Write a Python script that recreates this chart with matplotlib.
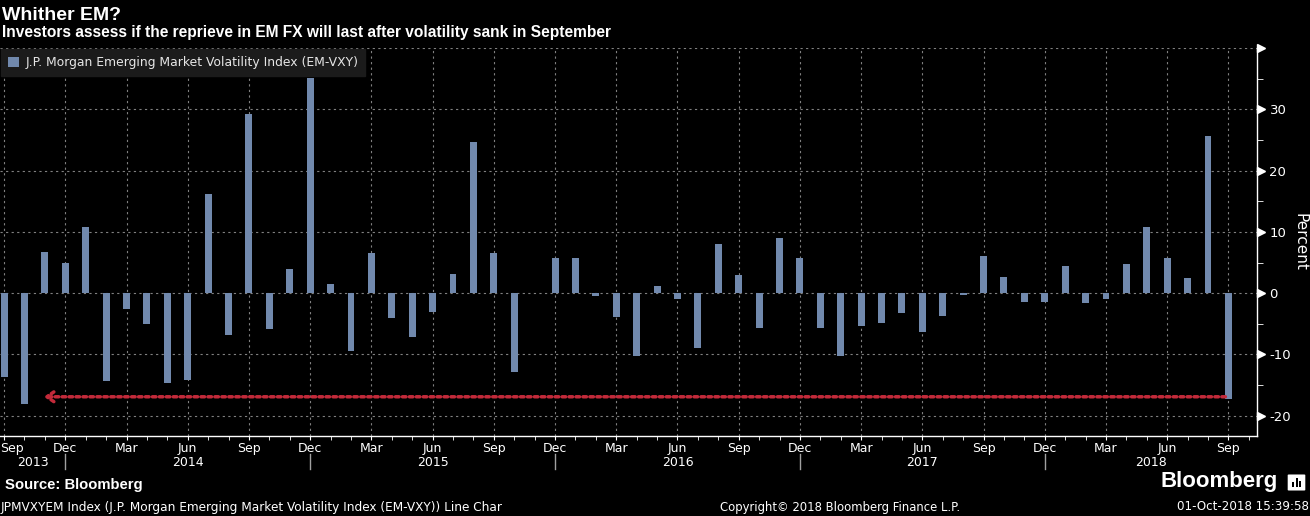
import numpy as np
import matplotlib.pyplot as plt
import matplotlib.transforms as mtransforms
from matplotlib.patches import FancyBboxPatch, Rectangle

# monthly change of EM-VXY, Sep 2013 .. Sep 2018 (percent)
months = ['Sep', 'Oct', 'Nov', 'Dec', 'Jan', 'Feb', 'Mar', 'Apr', 'May', 'Jun', 'Jul', 'Aug']
values = [-13.6, -18.0, 6.7, 4.9, 10.8, -14.4, -2.6, -5.1, -14.6, -14.1,
          16.1, -6.9, 29.2, -5.9, 3.9, 35.1, 1.5, -9.5, 6.6, -4.1,
          -7.2, -3.0, 3.1, 24.6, 6.6, -12.8, 0.1, 5.7, 5.7, -0.5,
          -3.9, -10.2, 1.1, -0.9, -8.9, 8.0, 3.0, -5.6, 9.0, 5.7,
          -5.6, -10.2, -5.4, -4.9, -3.3, -6.4, -3.8, -0.3, 6.1, 2.6,
          -1.5, -1.5, 4.4, -1.6, -0.9, 4.8, 10.8, 5.7, 2.5, 25.6,
          -17.2]
quarter_labels = ['Sep', 'Dec', 'Mar', 'Jun']
years = ['2013', '2014', '2015', '2016', '2017', '2018']
arrow_level = -16.9

W, H = 1310, 516
fig = plt.figure(figsize=(W / 100, H / 100), dpi=100, facecolor='black')
ax = fig.add_axes([0, 1 - 436 / H, 1257 / W, 388 / H], facecolor='black')

x = np.arange(len(values))
bars = ax.bar(x, values, width=0.34, color='#7189ad', zorder=3,
              label='J.P. Morgan Emerging Market Volatility Index (EM-VXY)')

ax.set_xlim(-0.2, 61.4)
ax.set_ylim(-23.3, 40)

fnt = 'DejaVu Sans'

# x axis
qt = np.arange(0, 61, 3)
ax.set_xticks(qt)
ax.set_xticklabels([quarter_labels[i % 4] for i in range(len(qt))], family=fnt,
                   fontsize=9, color='white')
ax.set_xticks(np.arange(0, 62), minor=True)
ax.tick_params(axis='x', which='both', direction='out', length=3, color='white',
               pad=1.5)
first = ax.get_xticklabels()[0]
first.set_horizontalalignment('left')
first.set_transform(first.get_transform() +
                    mtransforms.ScaledTranslation(-4 / 100, 0, fig.dpi_scale_trans))

# y axis on the right
ax.yaxis.tick_right()
ax.set_yticks(np.arange(-20, 41, 10))
ax.set_yticklabels(['-20', '-10', '0', '10', '20', '30', ''], family=fnt,
                   fontsize=9.5, color='white')
ax.set_yticks(np.arange(-15, 40, 10), minor=True)
ax.tick_params(axis='y', which='major', length=0, pad=9)
ax.tick_params(axis='y', which='minor', length=4, color='white', direction='out')
trans_r = mtransforms.blended_transform_factory(ax.transAxes, ax.transData)
off = mtransforms.ScaledTranslation(3.5 / 100, 0, fig.dpi_scale_trans)
ax.plot([1.0] * 7, np.arange(-20, 41, 10), linestyle='none', marker='>',
        markersize=5.5, color='white', transform=trans_r + off, clip_on=False, zorder=5)

for s in ['top', 'left']:
    ax.spines[s].set_visible(False)
for s in ['right', 'bottom']:
    ax.spines[s].set_color('white')
    ax.spines[s].set_linewidth(1)

ax.grid(True, which='major', color='#808080', linestyle=(0, (2, 3)), linewidth=0.8, zorder=0)

# year labels and separators
trans_b = mtransforms.blended_transform_factory(ax.transData, ax.transAxes)
seps = [3, 15, 27, 39, 51]
for s in seps:
    ax.plot([s, s], [-0.046, -0.086], color='#a0a0a0', lw=1, transform=trans_b, clip_on=False)
edges = [-0.2] + seps + [61.4]
for i, yr in enumerate(years):
    ax.text((edges[i] + edges[i + 1]) / 2, -0.068, yr, transform=trans_b, ha='center',
            va='center', color='white', family=fnt, fontsize=9)

# red dotted arrow
ax.annotate('', xy=(1.95, arrow_level), xytext=(59.85, arrow_level),
            arrowprops=dict(arrowstyle='->,head_length=0.5,head_width=0.35',
                            color='#c32a3a', lw=2.5, linestyle=(0, (1, 1)),
                            shrinkA=0, shrinkB=0), zorder=4)

leg = ax.legend(loc='upper left', bbox_to_anchor=(0, 1), borderaxespad=0.1,
                frameon=True, fancybox=False, handlelength=0.9, handleheight=0.9,
                handletextpad=0.5, borderpad=0.55, prop={'family': fnt, 'size': 8.9})
leg.get_frame().set_facecolor('#1b1b1b')
leg.get_frame().set_edgecolor('#1b1b1b')
leg.get_frame().set_alpha(1)
for t in leg.get_texts():
    t.set_color('#e6e6e6')

# titles and footer
fig.text(2 / W, 1 - 15 / H, 'Whither EM?', color='white', fontsize=14,
         fontweight='bold', family='Liberation Sans', va='center', ha='left')
fig.text(2 / W, 1 - 33 / H,
         'Investors assess if the reprieve in EM FX will last after volatility sank in September',
         color='white', fontsize=11.2, fontweight='bold', family='Liberation Sans',
         va='center', ha='left')
fig.text(1300 / W, 1 - 242 / H, 'Percent', rotation=270, color='white', family=fnt,
         fontsize=11, va='center', ha='center')
fig.text(5 / W, 1 - 485 / H, 'Source: Bloomberg', color='white', fontsize=10.7,
         fontweight='bold', family='Liberation Sans', va='center', ha='left')
fig.text(1 / W, 1 - 507 / H,
         'JPMVXYEM Index (J.P. Morgan Emerging Market Volatility Index (EM-VXY)) Line Char',
         color='white', family=fnt, fontsize=8.7, va='center', ha='left')
fig.text(840 / W, 1 - 507 / H, 'Copyright\u00a9 2018 Bloomberg Finance L.P.', color='white',
         family=fnt, fontsize=8.4, va='center', ha='center')
fig.text(1309 / W, 1 - 507 / H, '01-Oct-2018 15:39:58', color='white', family=fnt,
         fontsize=8.6, va='center', ha='right')
fig.text(1278 / W, 1 - 482 / H, 'Bloomberg', color='white', fontsize=16,
         fontweight='bold', family='Liberation Sans', va='center', ha='right')
icon = FancyBboxPatch((1289 / W, 1 - 490 / H), 15 / W, 15 / H,
                      boxstyle='round,pad=0.001', transform=fig.transFigure,
                      facecolor='white', edgecolor='none')
fig.patches.append(icon)
for bx, bh in [(1292, 5), (1295.5, 9), (1299, 6)]:
    fig.patches.append(Rectangle((bx / W, 1 - 487 / H), 2 / W, bh / H,
                                 transform=fig.transFigure, facecolor='black',
                                 edgecolor='none'))

fig.savefig('out.png', dpi=100, facecolor='black')
